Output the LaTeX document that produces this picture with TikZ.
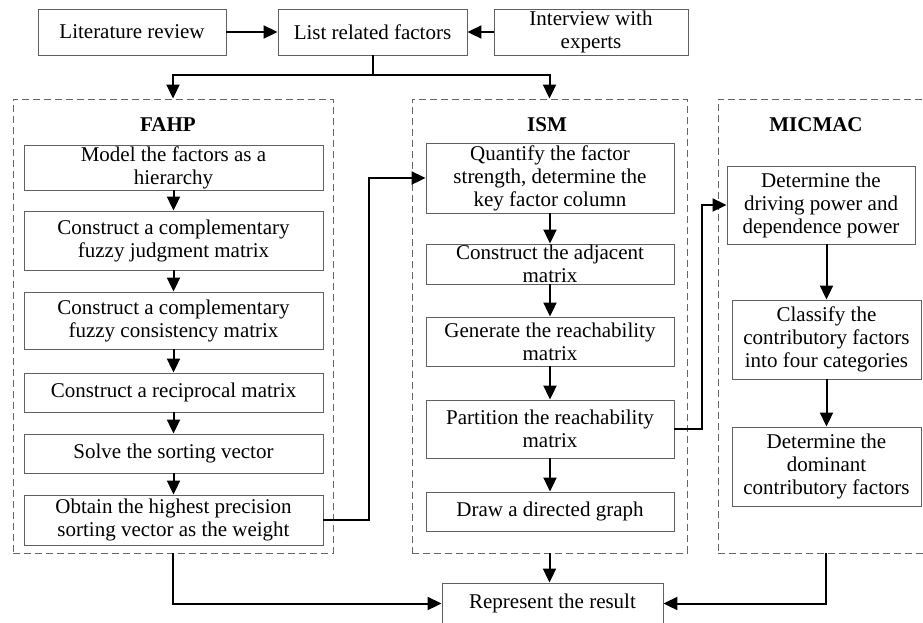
\documentclass[tikz,border=0pt]{standalone}
\usepackage{fontspec}
\setmainfont{Liberation Serif}
\usetikzlibrary{arrows.meta}

\newcommand{\boxfont}{\fontsize{21}{23}\selectfont}

\tikzset{
    box/.style={draw=gray!75!black, line width=0.9pt, fill=white, inner sep=0pt,
        align=center, text=black, font=\boxfont},
    group/.style={draw=gray!80!black, line width=0.9pt, dash pattern=on 7pt off 4pt, inner sep=0pt},
    head/.style={font=\boxfont\bfseries, text=black},
    flow/.style={->, line width=2pt},
    fahpbox/.style={box, minimum width=299pt},
    ismbox/.style={box, minimum width=248pt},
    micbox/.style={box, minimum width=189pt},
    >={Triangle[length=14pt,width=13pt]}
}

\begin{document}
\begin{tikzpicture}[x=1pt, y=-1pt]
    \useasboundingbox (0,0) rectangle (923,622);

    % 顶部：资料来源
    \node[box, minimum width=188pt, minimum height=46pt] (lit) at (132,32) {Literature review};
    \node[box, minimum width=189pt, minimum height=46pt] (list) at (372.5,32) {List related factors};
    \node[box, minimum width=194pt, minimum height=46pt] (intv) at (591,32) {Interview with\\experts};
    \draw[flow] (lit) -- (list);
    \draw[flow] (intv) -- (list);

    % 三个方法框（虚线）
    \node[group, minimum width=320pt, minimum height=454pt] (fahp) at (173,326) {};
    \node[group, minimum width=275pt, minimum height=454pt] (ism) at (549.5,326) {};
    \node[group, minimum width=216pt, minimum height=454pt] (micmac) at (826,326) {};
    \node[head] (fahpname) at (168,125) {FAHP};
    \node[head] (ismname) at (547,125) {ISM};
    \node[head] (micname) at (816,125) {MICMAC};

    % 分叉到 FAHP 和 ISM
    \draw[line width=2pt] (list.south) -- ++(0,20) coordinate (split);
    \draw[flow] (split) -| (fahp.north);
    \draw[flow] (split) -| (ism.north);

    % FAHP 步骤
    \node[fahpbox, minimum height=45pt] (f1) at (173.5,167.5) {Model the factors as a\\hierarchy};
    \node[fahpbox, minimum height=59pt] (f2) at (173.5,240.5) {Construct a complementary\\fuzzy judgment matrix};
    \node[fahpbox, minimum height=57pt] (f3) at (173.5,320.5) {Construct a complementary\\fuzzy consistency matrix};
    \node[fahpbox, minimum height=39pt] (f4) at (173.5,392.5) {Construct a reciprocal matrix};
    \node[fahpbox, minimum height=39pt] (f5) at (173.5,453.5) {Solve the sorting vector};
    \node[fahpbox, minimum height=50pt] (f6) at (173.5,520) {Obtain the highest precision\\sorting vector as the weight};
    \draw[flow] (f1) -- (f2);
    \draw[flow] (f2) -- (f3);
    \draw[flow] (f3) -- (f4);
    \draw[flow] (f4) -- (f5);
    \draw[flow] (f5) -- (f6);

    % ISM 步骤
    \node[ismbox, minimum height=70pt] (i1) at (550,178) {Quantify the factor\\strength, determine the\\key factor column};
    \node[ismbox, minimum height=40pt] (i2) at (550,264) {Construct the adjacent\\matrix};
    \node[ismbox, minimum height=49pt] (i3) at (550,341.5) {Generate the reachability\\matrix};
    \node[ismbox, minimum height=58pt] (i4) at (550,429) {Partition the reachability\\matrix};
    \node[ismbox, minimum height=39pt] (i5) at (550,511.5) {Draw a directed graph};
    \draw[flow] (i1) -- (i2);
    \draw[flow] (i2) -- (i3);
    \draw[flow] (i3) -- (i4);
    \draw[flow] (i4) -- (i5);

    % MICMAC 步骤
    \node[micbox, minimum width=188pt, minimum height=78pt] (m1) at (821,205) {Determine the\\driving power and\\dependence power};
    \node[micbox, minimum height=79pt] (m2) at (826.5,339.5) {Classify the\\contributory factors\\into four categories};
    \node[micbox, minimum height=79pt] (m3) at (826.5,466.5) {Determine the\\dominant\\contributory factors};
    \draw[flow] (m1.south -| m2.north) -- (m2.north);
    \draw[flow] (m2) -- (m3);

    % 方法之间的衔接
    \draw[flow] (f6.east) -- ++(46,0) |- (i1.west);
    \draw[flow] (i4.east) -- ++(28,0) |- (m1.west);

    % 结果
    \node[box, minimum width=221pt, minimum height=41pt] (res) at (552.5,603.5) {Represent the result};
    \draw[flow] (fahp.south) |- (res.west);
    \draw[flow] (ism.south) -- (ism.south |- res.north);
    \draw[flow] (micmac.south) |- (res.east);
\end{tikzpicture}
\end{document}
